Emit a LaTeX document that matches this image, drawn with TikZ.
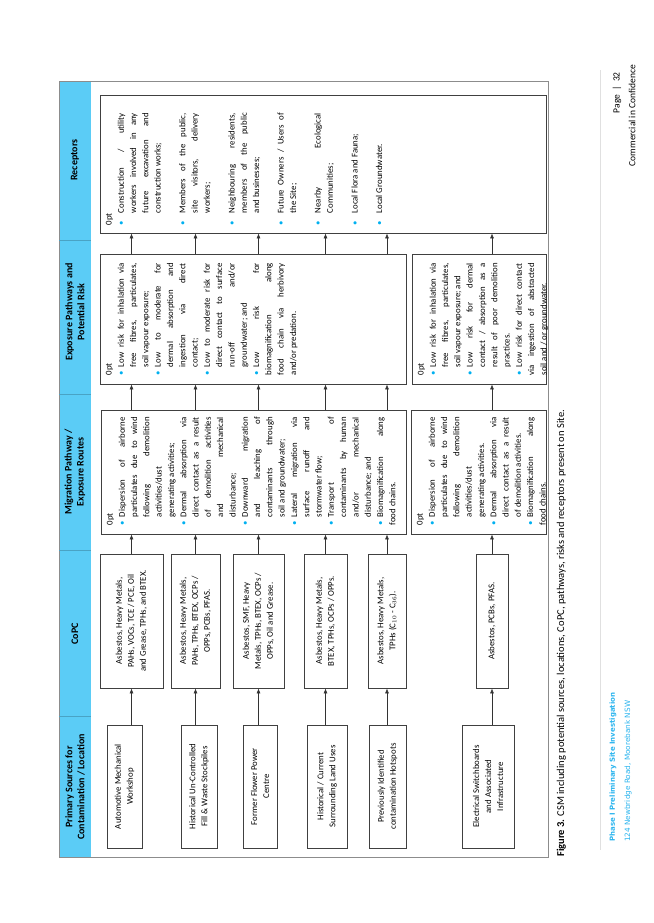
\documentclass[tikz,border=0pt]{standalone}
\usepackage{fontspec}
\setmainfont{Carlito}
\newfontfamily\footfont{DejaVu Sans}
\usetikzlibrary{arrows.meta}
\definecolor{hdrblue}{HTML}{5BCCF6}
\definecolor{bulcyan}{HTML}{00B0F0}
\definecolor{footblue}{HTML}{2AB4EE}
\newcommand\bitem{\par\noindent\hangindent=8pt\hangafter=1\makebox[8pt][l]{\textcolor{bulcyan}{\textbullet}}}
\newcommand\rgap{\par\vskip 12.3pt}
\hyphenpenalty=10000 \exhyphenpenalty=10000

\begin{document}
\begin{tikzpicture}[x=1pt, y=-1pt,
    box/.style={draw=black!75, line width=0.8pt, rotate=90, inner sep=0pt,
        align=center, font=\fontsize{8.8}{12}\selectfont},
    txt/.style={rotate=90, anchor=north west, align=justify, inner xsep=9pt,
        inner ysep=6pt, font=\fontsize{8.8}{12.3}\selectfont\tolerance=10000},
    hdr/.style={rotate=90, align=center, font=\fontsize{10}{12}\selectfont\bfseries},
    arr/.style={-{Latex[length=5pt, width=4pt]}, line width=0.6pt, black!80}
]
    \useasboundingbox (0,0) rectangle (653,923);
    % table frame and header band
    \fill[hdrblue] (59,81) rectangle (91,857);
    \draw[black!45, line width=0.8pt] (59,81) rectangle (548,857);
    \foreach \yy in {240,394,550,716}
        \draw[hdrblue!80!black, line width=0.3pt] (59,\yy) -- (91,\yy);
    \node[hdr] (hrec) at (75,160) {Receptors};
    \node[hdr] (hexp) at (75,312) {Exposure Pathways and\\Potential Risk};
    \node[hdr] (hmig) at (75,472) {Migration Pathway /\\Exposure Routes};
    \node[hdr] (hcopc) at (75,634) {CoPC};
    \node[hdr] (hsrc) at (75,787) {Primary Sources for\\Contamination / Location};

    % sources
    \node[box, minimum width=123, minimum height=35] (src1) at (124.5,786.5) {Automotive Mechanical\\Workshop};
    \node[box, minimum width=123, minimum height=36] (src2) at (199,786.5) {Historical Un-Controlled\\Fill \& Waste Stockpiles};
    \node[box, minimum width=123, minimum height=34] (src3) at (260,786.5) {Former Flower Power\\Centre};
    \node[box, minimum width=123, minimum height=40] (src4) at (327,786.5) {Historical / Current\\Surrounding Land Uses};
    \node[box, minimum width=123, minimum height=37] (src5) at (387.5,786.5) {Previously Identified\\contamination Hotspots};
    \node[box, minimum width=123, minimum height=52] (src6) at (488,786.5) {Electrical Switchboards\\and Associated\\Infrastructure};

    % contaminants of potential concern
    \node[box, minimum width=134, minimum height=63] (copc1) at (131.5,621) {Asbestos, Heavy Metals,\\PAHs, VOCs, TCE / PCE, Oil\\and Grease, TPHs, and BTEX.};
    \node[box, minimum width=134, minimum height=49] (copc2) at (195.5,621) {Asbestos, Heavy Metals,\\PAHs, TPHs, BTEX, OCPs /\\OPPs, PCBs, PFAS.};
    \node[box, minimum width=134, minimum height=51] (copc3) at (258.5,621) {Asbestos, SMF, Heavy\\Metals, TPHs, BTEX, OCPs /\\OPPs, Oil and Grease.};
    \node[box, minimum width=134, minimum height=43] (copc4) at (325.5,621) {Asbestos, Heavy Metals,\\BTEX, TPHs, OCPs / OPPs.};
    \node[box, minimum width=134, minimum height=38] (copc5) at (387,621) {Asbestos, Heavy Metals,\\TPHs (C$_{10}$ - C$_{36}$).};
    \node[box, minimum width=134, minimum height=32] (copc6) at (492,621) {Asbestos, PCBs, PFAS.};

    % migration pathways
    \node[box, minimum width=124, minimum height=305] (mig1) at (253.5,472) {};
    \node[box, minimum width=124, minimum height=135] (mig2) at (478.5,472) {};
    \node[txt, text width=108pt] (migtxt1) at (mig1.north west) {%
        \bitem Dispersion of airborne\linebreak particulates due to wind\linebreak following demolition\linebreak activities/dust\newline generating activities;
        \bitem Dermal absorption via\linebreak direct contact as a result\linebreak of demolition activities\linebreak and mechanical\linebreak disturbance;
        \bitem Downward migration\linebreak and leaching of\linebreak contaminants through\linebreak soil and groundwater;
        \bitem Lateral migration via\linebreak surface runoff and\linebreak stormwater flow;
        \bitem Transport of\linebreak contaminants by human\linebreak and/or mechanical\linebreak disturbance; and
        \bitem Biomagnification along\linebreak food chains.};
    \node[txt, text width=108pt] (migtxt2) at (mig2.north west) {%
        \bitem Dispersion of airborne\linebreak particulates due to wind\linebreak following demolition\linebreak activities/dust\newline generating activities.
        \bitem Dermal absorption via\linebreak direct contact as a result\linebreak of demolition activities.
        \bitem Biomagnification along\linebreak food chains.};

    % exposure pathways
    \node[box, minimum width=130, minimum height=306] (exp1) at (253,319) {};
    \node[box, minimum width=130, minimum height=134] (exp2) at (479,319) {};
    \node[txt, text width=112pt] (exptxt1) at (exp1.north west) {%
        \bitem Low risk for inhalation via\linebreak free fibres, particulates,\linebreak soil vapour exposure;
        \bitem Low to moderate for\linebreak dermal absorption and\linebreak ingestion via direct\linebreak contact;
        \bitem Low to moderate risk for\linebreak direct contact to surface\linebreak run-off and/or\linebreak groundwater; and
        \bitem Low risk for\linebreak biomagnification along\linebreak food chain via herbivory\linebreak and/or predation.};
    \node[txt, text width=112pt] (exptxt2) at (exp2.north west) {%
        \bitem Low risk for inhalation via\linebreak free fibres, particulates,\linebreak soil vapour exposure; and
        \bitem Low risk for dermal\linebreak contact / absorption as a\linebreak result of poor demolition\linebreak practices.
        \bitem Low risk for direct contact\linebreak via ingestion of abstracted\linebreak soil and / or groundwater.};

    % receptors
    \node[box, minimum width=138, minimum height=446] (rec) at (323,164) {};
    \node[txt, text width=112pt, inner xsep=8pt] (rectxt) at (rec.north west) {%
        \bitem\hangindent=12pt\makebox[4pt]{}Construction / utility\linebreak workers involved in any\linebreak future excavation and\linebreak construction works;\rgap
        \bitem\hangindent=12pt\makebox[4pt]{}Members of the public,\linebreak site visitors, delivery\linebreak workers;\rgap
        \bitem\hangindent=12pt\makebox[4pt]{}Neighbouring residents,\linebreak members of the public\linebreak and businesses;\rgap
        \bitem\hangindent=12pt\makebox[4pt]{}Future Owners / Users of\linebreak the Site;\rgap
        \bitem\hangindent=12pt\makebox[4pt]{}Nearby Ecological\linebreak Communities;\rgap
        \bitem\hangindent=12pt\makebox[4pt]{}Local Flora and Fauna;\rgap
        \bitem\hangindent=12pt\makebox[4pt]{}Local Groundwater.};

    % connectors
    \foreach \s/\c/\m/\e in {src1/copc1/mig1/exp1, src2/copc2/mig1/exp1,
        src3/copc3/mig1/exp1, src4/copc4/mig1/exp1, src5/copc5/mig1/exp1,
        src6/copc6/mig2/exp2} {
        \draw[arr] (\c.west |- \s.east) -- (\c.west);
        \draw[arr] (\c.east) -- (\c.east |- \m.west);
        \draw[arr] (\c.east |- \m.east) -- (\c.east |- \e.west);
        \draw[arr] (\c.east |- \e.east) -- (\c.east |- rec.west);
    }

    % caption and footer
    \node[rotate=90, anchor=south west, inner sep=0pt, font=\fontsize{10.5}{12}\selectfont] (cap) at (566,857)
        {\textbf{Figure 3.} CSM including potential sources, locations, CoPC, pathways, risks and receptors present on Site.};
    \draw[black!12, line width=1pt] (600,70) -- (600,850);
    \node[rotate=90, anchor=west, inner sep=0pt, font=\footfont\fontsize{7}{8}\selectfont\bfseries, text=footblue] (ftitle) at (613,842) {Phase I Preliminary Site Investigation};
    \node[rotate=90, anchor=west, inner sep=0pt, font=\footfont\fontsize{7.3}{8}\selectfont, text=footblue] (faddr) at (628,842) {124 Newbridge Road, Moorebank NSW};
    \node[rotate=90, anchor=east, inner sep=0pt, font=\fontsize{9.5}{11}\selectfont] (fpage) at (617,72) {Page \ | \ 32};
    \node[rotate=90, anchor=east, inner sep=0pt, font=\fontsize{9.5}{11}\selectfont] (fconf) at (632,65) {Commercial in Confidence};
\end{tikzpicture}
\end{document}
